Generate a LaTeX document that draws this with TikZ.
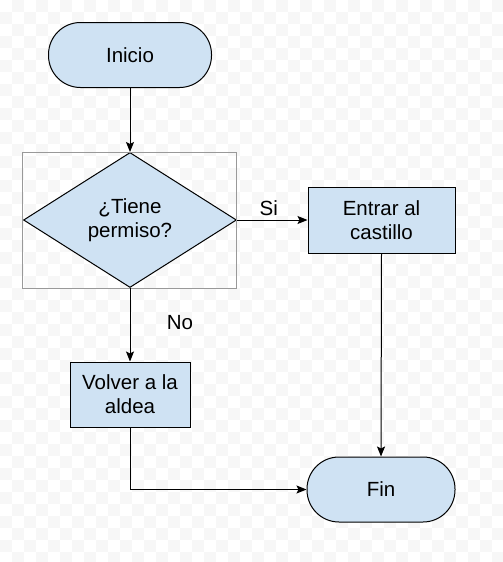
\documentclass[tikz,border=0pt]{standalone}
\usepackage{fontspec}
\setmainfont{Liberation Sans}
\usetikzlibrary{positioning, arrows.meta, shapes.geometric}

\definecolor{boxblue}{HTML}{CFE2F3}
\definecolor{framegray}{HTML}{999999}

\begin{document}
\begin{tikzpicture}[x=1pt, y=-1pt,
    font=\fontsize{20.5}{24}\selectfont,
    line width=1pt,
    >={Stealth[length=10pt, width=8pt, inset=2pt]},
    terminal/.style={draw, fill=boxblue, rounded corners=32pt,
        minimum width=163pt, minimum height=65pt},
    process/.style={draw, fill=boxblue, align=center,
        minimum width=147pt, minimum height=66pt, inner sep=2pt},
    decision/.style={draw, fill=boxblue, diamond, aspect=1.58,
        align=center, inner sep=0pt, minimum width=213pt, minimum height=135pt},
    flow/.style={->, line width=1pt},
    tag/.style={font=\fontsize{20.5}{24}\selectfont}]

    % page and faint checker background
    \useasboundingbox (0,0) rectangle (503,562);
    \foreach \i in {0,...,41} {
        \foreach \j in {0,...,46} {
            \pgfmathtruncatemacro{\odd}{mod(\i+\j,2)}
            \ifnum\odd=1
                \fill[black!3] (\i*12,\j*12) rectangle ++(12,12);
            \fi
        }
    }

    % nodes
    \node[terminal] (inicio) at (130,55) {Inicio};
    \node[decision] (permiso) at (130,220) {¿Tiene\\permiso?};
    \draw[framegray, line width=0.8pt] (22.5,152.5) rectangle (236.5,288.5);
    \node[process] (entrar) at (381.5,220) {Entrar al\\castillo};
    \node[process, minimum width=120pt, minimum height=65pt] (volver) at (130,394.5) {Volver a la\\aldea};
    \node[terminal, minimum width=148pt] (fin) at (381,489.5) {Fin};

    % connectors
    \draw[flow] (inicio) -- (permiso);
    \draw[flow] (permiso.east) -- node[tag, above, pos=0.45] {Si} (entrar.west);
    \draw[flow] (permiso.south) -- (volver.north);
    \node[tag] (no) at (180,323) {No};
    \draw[flow] (entrar.south) -- (fin.north);
    \draw[flow] (volver.south) |- (fin.west);
\end{tikzpicture}
\end{document}
